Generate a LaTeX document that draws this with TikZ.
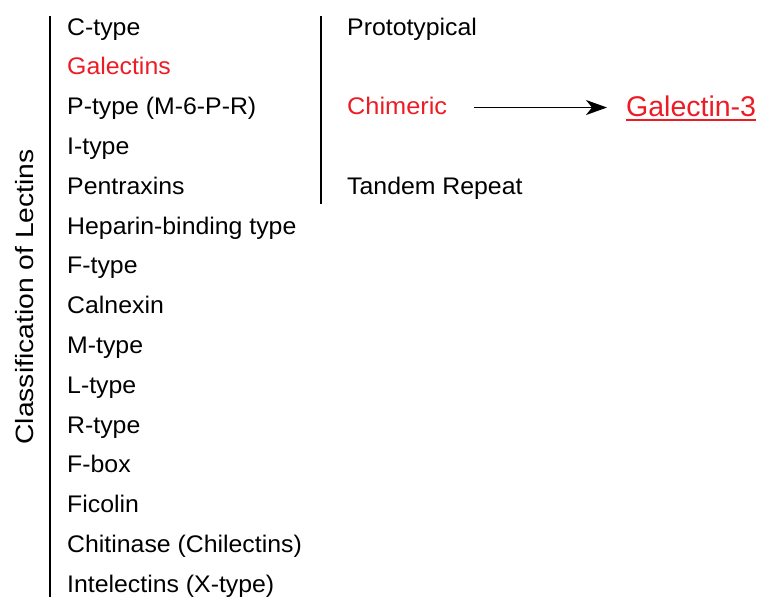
\documentclass[tikz,border=0pt]{standalone}
\usepackage{fontspec}
\setmainfont{Liberation Sans}
\newfontfamily\wide[FakeStretch=1.035]{Liberation Sans}
\usetikzlibrary{arrows.meta}
\definecolor{lred}{RGB}{237,28,36}
\begin{document}
\begin{tikzpicture}[x=1pt,y=-1pt,
  item/.style={anchor=base west,inner sep=0pt,font=\wide\fontsize{24}{28}\selectfont},
  reditem/.style={item,text=lred},
  bar/.style={line width=1.6pt,black},
  arr/.style={line width=1.6pt,-{Stealth[length=21pt,width=15pt,inset=6pt]}}]
\useasboundingbox (0,0) rectangle (760,597);
\draw[bar] (50,16) -- (50,597);
\draw[bar] (321,16) -- (321,204);
\node[rotate=90,anchor=base,inner sep=0pt,font=\fontsize{25}{30}\selectfont] (title) at (33,297) {\scalebox{1.13}[1]{Classification of Lectins}};
\node[item] (c1) at (67,35) {C-type};
\node[reditem] (c2) at (67,74.8) {Galectins};
\node[item] (c3) at (67,114.6) {P-type (M-6-P-R)};
\node[item] (c4) at (67,154.4) {I-type};
\node[item] (c5) at (67,194.2) {Pentraxins};
\node[item] (c6) at (67,234) {Heparin-binding type};
\node[item] (c7) at (67,273.8) {F-type};
\node[item] (c8) at (67,313.6) {Calnexin};
\node[item] (c9) at (67,353.4) {M-type};
\node[item] (c10) at (67,393.2) {L-type};
\node[item] (c11) at (67,433) {R-type};
\node[item] (c12) at (67,472.8) {F-box};
\node[item] (c13) at (67,512.6) {Ficolin};
\node[item] (c14) at (67,552.4) {Chitinase (Chilectins)};
\node[item] (c15) at (67,592.2) {Intelectins (X-type)};
\node[item] (proto) at (347,35) {Prototypical};
\node[reditem] (chim) at (347,114.6) {\scalebox{1.02}[1]{Chimeric}};
\node[item] (tand) at (347,194.2) {Tandem Repeat};
\node[anchor=base west,inner sep=0pt,text=lred,font=\fontsize{28.5}{32}\selectfont] (g3) at (626,116) {Galectin-3};
\draw[lred,line width=1.8pt] ([yshift=-4pt]g3.base west) -- ([yshift=-4pt]g3.base east);
\draw[arr] ([xshift=27pt,yshift=-1.5pt]chim.east) -- ([xshift=-19pt,yshift=-1.5pt]chim.east -| g3.west);
\end{tikzpicture}
\end{document}
